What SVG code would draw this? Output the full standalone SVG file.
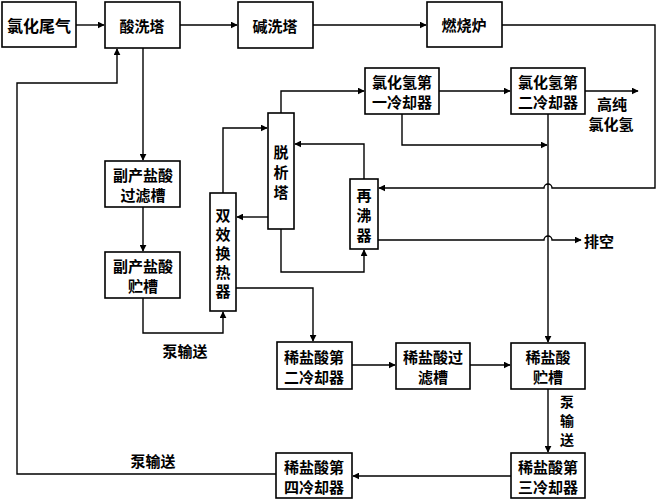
<svg xmlns="http://www.w3.org/2000/svg" width="660" height="500" viewBox="0 0 660 500">
<style>
.b{fill:#fff;stroke:#000;stroke-width:1.6}
.t{font-family:"Noto Sans CJK SC",sans-serif;font-size:15px;font-weight:700;fill:#000;text-anchor:middle;dominant-baseline:central}
.c{fill:none;stroke:#000;stroke-width:1.4}
</style>
<defs>
<marker id="a" viewBox="0 0 10 10" refX="9" refY="5" markerWidth="7" markerHeight="7" markerUnits="userSpaceOnUse" orient="auto">
<path d="M0,0L10,5L0,10z" fill="#000"/>
</marker>
</defs>
<rect width="660" height="500" fill="#fff"/>
<g id="connectors">
<path class="c" d="M76,25H104" marker-end="url(#a)"/>
<path class="c" d="M180,25H237" marker-end="url(#a)"/>
<path class="c" d="M313,25H426" marker-end="url(#a)"/>
<path class="c" d="M502,25H655V188H552a4,4 0 0 0 -8,0H379" marker-end="url(#a)"/>
<path class="c" d="M378,240H544a4,4 0 0 1 8,0H581" marker-end="url(#a)"/>
<path class="c" d="M143,48V160" marker-end="url(#a)"/>
<path class="c" d="M143,207V251" marker-end="url(#a)"/>
<path class="c" d="M143,298V333H223V312" marker-end="url(#a)"/>
<path class="c" d="M223,193V128H267" marker-end="url(#a)"/>
<path class="c" d="M268,217H237" marker-end="url(#a)"/>
<path class="c" d="M364,179V144H295" marker-end="url(#a)"/>
<path class="c" d="M281,229V272H364V250" marker-end="url(#a)"/>
<path class="c" d="M281,113V91H364" marker-end="url(#a)"/>
<path class="c" d="M439,91H510" marker-end="url(#a)"/>
<path class="c" d="M585,91H638" marker-end="url(#a)"/>
<path class="c" d="M402,114V145H547" marker-end="url(#a)"/>
<path class="c" d="M548,114V342" marker-end="url(#a)"/>
<path class="c" d="M236,288H313V341" marker-end="url(#a)"/>
<path class="c" d="M352,365H395" marker-end="url(#a)"/>
<path class="c" d="M470,365H510" marker-end="url(#a)"/>
<path class="c" d="M548,389V452" marker-end="url(#a)"/>
<path class="c" d="M511,476H353" marker-end="url(#a)"/>
<path class="c" d="M276,474H17V83H117V49" marker-end="url(#a)"/>
</g>
<g id="n1"><rect class="b" x="2" y="2" width="74" height="45"/><text class="t" x="39" y="25" style="font-size:16px">氯化尾气</text></g>
<g id="n2"><rect class="b" x="105" y="2" width="75" height="46"/><text class="t" x="142" y="25">酸洗塔</text></g>
<g id="n3"><rect class="b" x="238" y="2" width="75" height="46"/><text class="t" x="275" y="25">碱洗塔</text></g>
<g id="n4"><rect class="b" x="427" y="2" width="75" height="45"/><text class="t" x="464" y="24">燃烧炉</text></g>
<g id="n5"><rect class="b" x="365" y="68" width="74" height="46"/><text class="t" x="402" y="81">氯化氢第</text><text class="t" x="402" y="101">一冷却器</text></g>
<g id="n6"><rect class="b" x="511" y="68" width="74" height="46"/><text class="t" x="548" y="81">氯化氢第</text><text class="t" x="548" y="101">二冷却器</text></g>
<g id="l1"><text class="t" x="612" y="103">高纯</text><text class="t" x="611" y="123">氯化氢</text></g>
<g id="n7"><rect class="b" x="105" y="161" width="75" height="46"/><text class="t" x="143" y="174">副产盐酸</text><text class="t" x="143" y="194">过滤槽</text></g>
<g id="n8"><rect class="b" x="105" y="252" width="75" height="46"/><text class="t" x="143" y="265">副产盐酸</text><text class="t" x="143" y="285">贮槽</text></g>
<g id="n9"><rect class="b" x="268" y="113" width="26" height="116"/><text class="t" x="281" y="151">脱</text><text class="t" x="281" y="171">析</text><text class="t" x="281" y="191">塔</text></g>
<g id="n10"><rect class="b" x="350" y="179" width="28" height="70"/><text class="t" x="364" y="194">再</text><text class="t" x="364" y="214">沸</text><text class="t" x="364" y="234">器</text></g>
<g id="n11"><rect class="b" x="210" y="193" width="26" height="118"/><text class="t" x="223" y="214">双</text><text class="t" x="223" y="233">效</text><text class="t" x="223" y="252">换</text><text class="t" x="223" y="271">热</text><text class="t" x="223" y="290">器</text></g>
<g id="l2"><text class="t" x="599" y="240">排空</text></g>
<g id="l3"><text class="t" x="185" y="350">泵输送</text></g>
<g id="n12"><rect class="b" x="277" y="342" width="75" height="47"/><text class="t" x="314" y="356">稀盐酸第</text><text class="t" x="314" y="376">二冷却器</text></g>
<g id="n13"><rect class="b" x="396" y="343" width="74" height="46"/><text class="t" x="433" y="356">稀盐酸过</text><text class="t" x="433" y="376">滤槽</text></g>
<g id="n14"><rect class="b" x="511" y="343" width="74" height="46"/><text class="t" x="548" y="356">稀盐酸</text><text class="t" x="548" y="376">贮槽</text></g>
<g id="l4"><text class="t" x="567" y="401" style="font-size:14px">泵</text><text class="t" x="567" y="420" style="font-size:14px">输</text><text class="t" x="567" y="439" style="font-size:14px">送</text></g>
<g id="n15"><rect class="b" x="511" y="453" width="74" height="45"/><text class="t" x="548" y="466">稀盐酸第</text><text class="t" x="548" y="486">三冷却器</text></g>
<g id="n16"><rect class="b" x="276" y="453" width="76" height="45"/><text class="t" x="314" y="466">稀盐酸第</text><text class="t" x="314" y="486">四冷却器</text></g>
<g id="l5"><text class="t" x="153" y="460">泵输送</text></g>
</svg>
